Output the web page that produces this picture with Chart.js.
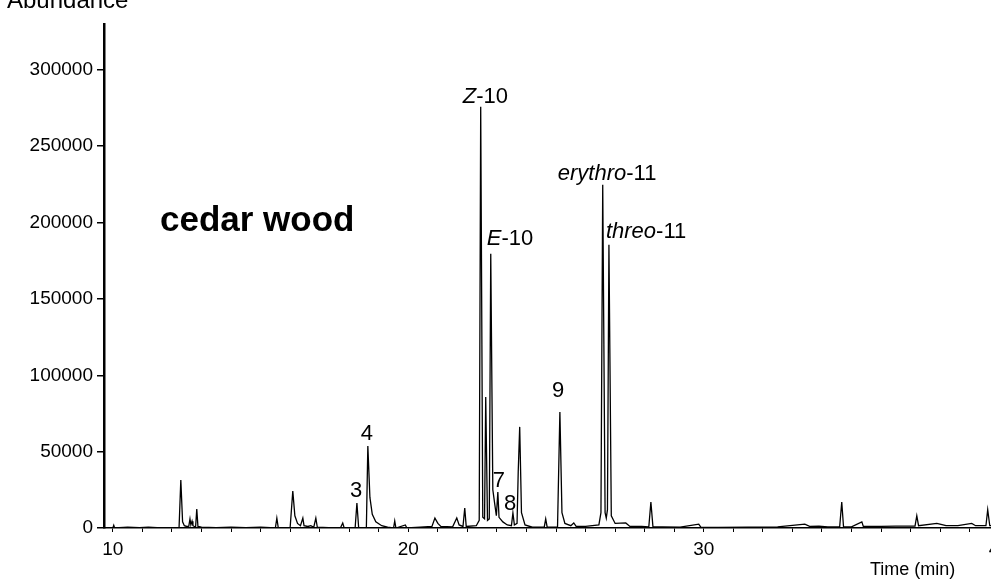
<!DOCTYPE html>
<html lang="en">
<head>
<meta charset="UTF-8">
<title>cedar wood chromatogram</title>
<script src="https://cdn.jsdelivr.net/npm/chart.js"></script>
<style>
  html, body { margin: 0; padding: 0; background: #fff; overflow: hidden; }
  .box { position: absolute; left: 0; top: 0; width: 1040px; height: 581px; }
</style>
</head>
<body>
<div class="box"><canvas id="grafico"></canvas></div>

<script>
// retention time (min) and abundance
const tempos = [
  9.75, 10.0, 10.03, 10.06, 10.5, 10.9, 11.2, 11.5, 11.9,
  12.24, 12.30, 12.36, 12.42, 12.5, 12.57, 12.61, 12.64, 12.68, 12.71, 12.76, 12.80, 12.84, 12.88,
  13.0, 13.5, 14.0, 14.5, 15.0, 15.5, 15.55, 15.6,
  16.0, 16.09, 16.16, 16.25, 16.35, 16.43, 16.47, 16.6, 16.7, 16.8, 16.87, 16.92,
  17.3, 17.7, 17.78, 17.83, 18.2, 18.26, 18.32,
  18.58, 18.63, 18.70, 18.78, 18.9, 19.1, 19.3, 19.5, 19.54, 19.58, 19.9, 19.95,
  20.4, 20.8, 20.9, 21.0, 21.1, 21.5, 21.64, 21.72, 21.85, 21.91, 21.96,
  22.3, 22.40, 22.45, 22.52, 22.58, 22.62, 22.68, 22.74, 22.79, 22.86, 22.93, 22.98, 23.03, 23.07,
  23.2, 23.35, 23.49, 23.54, 23.59, 23.68, 23.72, 23.77, 23.83, 23.95,
  24.2, 24.6, 24.65, 24.7, 25.05, 25.13, 25.2, 25.3, 25.5, 25.6, 25.68,
  26.0, 26.45, 26.52, 26.58, 26.66, 26.70, 26.74, 26.79, 26.87, 27.0,
  27.36, 27.5, 27.9, 28.14, 28.21, 28.28, 28.6, 29.2, 29.83, 29.9,
  30.5, 31.5, 32.5, 33.42, 33.6, 33.9, 34.2, 34.6, 34.67, 34.73,
  35.0, 35.35, 35.4, 36.0, 36.5, 37.15, 37.21, 37.27, 37.89, 38.2, 38.6,
  39.07, 39.2, 39.55, 39.61, 39.68, 40.4
];
const abundancia = [
  0, 0, 1800, 0, 500, 300, 600, 300, 200,
  0, 31400, 4000, 1500, 1000, 1200, 5900, 2000, 4500, 1500, 1000, 500, 12400, 1000,
  500, 300, 500, 200, 600, 0, 6500, 0,
  200, 24200, 8000, 3000, 1500, 6500, 1500, 1000, 1500, 500, 6500, 500,
  300, 0, 3300, 0, 0, 16400, 0,
  0, 53700, 20000, 9000, 4000, 1500, 500, 0, 4600, 0, 2000, 0,
  500, 1000, 6500, 3000, 1000, 800, 6500, 2000, 1000, 13100, 1000,
  1500, 5000, 275800, 7000, 6000, 85800, 5000, 6000, 179500, 25000, 15000, 8000, 23600, 7000,
  4000, 2000, 1500, 9800, 2000, 3000, 37000, 66200, 10000, 2000,
  500, 500, 5900, 500, 500, 76000, 10000, 3000, 1500, 3300, 1000,
  1000, 2000, 10000, 224700, 10000, 6500, 12000, 185400, 8000, 3000,
  3300, 1000, 1000, 800, 17000, 800, 800, 600, 2500, 600,
  400, 600, 800, 2500, 1000, 1200, 800, 800, 17000, 800,
  800, 4000, 1000, 1000, 1200, 1200, 8000, 1500, 3000, 1500, 1500,
  3000, 1500, 1500, 12000, 1500, 1500
];

// labelled peaks: name (italic part + plain part) and apex time/abundance
const picosNome = [['Z', '-10'], ['E', '-10'], ['erythro', '-11'], ['threo', '-11'], ['', '9'], ['', '4'], ['', '3'], ['', '7'], ['', '8']];
const picosTempo = [22.45, 22.79, 26.58, 26.79, 25.13, 18.63, 18.26, 23.03, 23.54];
const picosValor = [275800, 179500, 224700, 185400, 76000, 53700, 16400, 23600, 9800];
// label offset from the apex, in px
const picosDesloc = [[-18, -4], [-4, -9], [-45, -5], [-3, -7], [-8, -15], [-7, -6], [-7, -6], [-5, -5], [-9, -3]];

const xTicks = Array.from({ length: 31 }, (_, i) => 10 + i);   // every minute, labels each 10
const yTicks = [0, 50000, 100000, 150000, 200000, 250000, 300000];
const fonte = '"Liberation Sans", Arial, sans-serif';

const pontos = tempos.map((t, i) => ({ x: t, y: abundancia[i] }));

const textos = {
  id: 'textos',
  afterDraw(chart) {
    const ctx = chart.ctx;
    const xs = chart.scales.x, ys = chart.scales.y;
    ctx.save();
    ctx.fillStyle = '#000';
    ctx.textBaseline = 'alphabetic';
    ctx.textAlign = 'left';

    for (let i = 0; i < picosNome.length; i++) {
      let x = xs.getPixelForValue(picosTempo[i]) + picosDesloc[i][0];
      const y = ys.getPixelForValue(picosValor[i]) + picosDesloc[i][1];
      const [ital, normal] = picosNome[i];
      if (ital) {
        ctx.font = 'italic 22px ' + fonte;
        ctx.fillText(ital, x, y);
        x += ctx.measureText(ital).width;
      }
      ctx.font = '22px ' + fonte;
      ctx.fillText(normal, x, y);
    }

    ctx.font = 'bold 35px ' + fonte;
    ctx.fillText('cedar wood', 160, 231);

    ctx.font = '24px ' + fonte;
    ctx.fillText('Abundance', 7, 8);

    ctx.font = '18px ' + fonte;
    ctx.fillText('Time (min)', 870, 575);
    ctx.restore();
  }
};

new Chart(document.getElementById('grafico'), {
  type: 'line',
  data: {
    datasets: [{
      data: pontos,
      borderColor: '#000',
      borderWidth: 1.3,
      pointRadius: 0,
      tension: 0,
      fill: false
    }]
  },
  options: {
    responsive: true,
    maintainAspectRatio: false,
    animation: false,
    layout: { padding: { top: 24, right: 26, left: 0, bottom: 0 } },
    plugins: { legend: { display: false }, tooltip: { enabled: false } },
    scales: {
      x: {
        type: 'linear',
        min: 9.7,
        max: 40.5,
        afterBuildTicks: s => { s.ticks = xTicks.map(v => ({ value: v })); },
        afterFit: s => { s.height = 53; },
        ticks: {
          autoSkip: false,
          maxRotation: 0,
          padding: 6,
          color: '#000',
          font: { family: fonte, size: 19 },
          callback: v => (v % 10 === 0 ? String(v) : '')
        },
        grid: { drawOnChartArea: false, tickLength: 4, color: '#000', lineWidth: 1 },
        border: { display: true, color: '#000', width: 1.5 }
      },
      y: {
        min: 0,
        max: 330000,
        afterBuildTicks: s => { s.ticks = yTicks.map(v => ({ value: v })); },
        afterFit: s => { s.width = 104; },
        ticks: {
          padding: 4,
          color: '#000',
          font: { family: fonte, size: 19 },
          callback: v => String(v)
        },
        grid: { drawOnChartArea: false, tickLength: 7, color: '#000', lineWidth: 1.5 },
        border: { display: true, color: '#000', width: 2.5 }
      }
    }
  },
  plugins: [textos]
});
</script>
</body>
</html>
